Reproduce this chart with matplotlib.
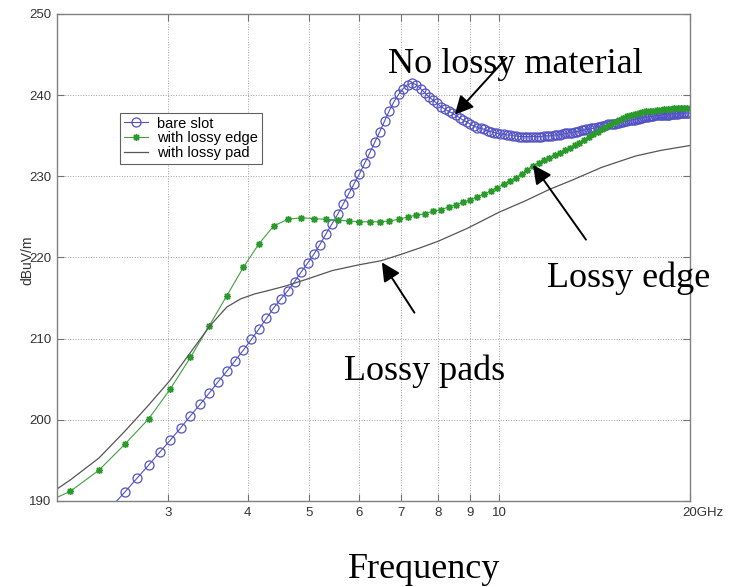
import numpy as np
import matplotlib
matplotlib.use("Agg")
from matplotlib import pyplot as plt
from matplotlib.ticker import NullLocator

# frequency sweep (GHz): blue sampled every 0.115 GHz, green every 0.23 GHz
blue_f0, blue_step = 2.445, 0.115
green_f0, green_step = 1.87, 0.23

# bare slot (dBuV/m)
bare_slot = [
    189.4, 191.1, 192.8, 194.4, 196.0, 197.5, 199.0, 200.5, 201.9, 203.3,
    204.7, 206.0, 207.3, 208.6, 209.9, 211.2, 212.5, 213.8, 214.9, 215.9,
    217.0, 218.2, 219.3, 220.4, 221.6, 222.9, 224.1, 225.3, 226.6, 227.9,
    229.1, 230.3, 231.6, 232.9, 234.2, 235.5, 236.8, 238.1, 239.2, 240.1,
    240.8, 241.3, 241.5, 241.3, 240.8, 240.3, 239.8, 239.4, 239.0, 238.6,
    238.3, 238.0, 237.8, 237.5, 237.2, 236.9, 236.7, 236.4, 236.2, 236.0,
    235.9, 235.8, 235.6, 235.5, 235.4, 235.3, 235.2, 235.2, 235.1, 235.1,
    235.0, 235.0, 234.9, 234.9, 234.9, 234.9, 234.9, 234.9, 234.9, 234.9,
    234.9, 235.0, 235.0, 235.0, 235.0, 235.1, 235.1, 235.1, 235.2, 235.3,
    235.3, 235.4, 235.4, 235.5, 235.5, 235.6, 235.7, 235.7, 235.8, 235.8,
    235.9, 235.9, 236.0, 236.1, 236.1, 236.2, 236.2, 236.3, 236.4, 236.4,
    236.5, 236.5, 236.6, 236.6, 236.7, 236.7, 236.8, 236.8, 236.9, 236.9,
    237.0, 237.0, 237.1, 237.1, 237.2, 237.2, 237.3, 237.3, 237.3, 237.4,
    237.4, 237.4, 237.5, 237.5, 237.5, 237.5, 237.6, 237.6, 237.6, 237.6,
    237.6, 237.7, 237.7, 237.7, 237.7, 237.7, 237.8, 237.8, 237.8, 237.8,
    237.8, 237.8, 237.8,
]

lossy_edge = [
    189.4, 191.2, 193.8, 197.0, 200.1, 203.8, 207.7, 211.6, 215.3, 218.8,
    221.7, 223.9, 224.7, 224.9, 224.8, 224.7, 224.6, 224.5, 224.4, 224.4,
    224.4, 224.5, 224.7, 225.0, 225.2, 225.4, 225.7, 225.9, 226.2, 226.5,
    226.8, 227.1, 227.5, 227.8, 228.2, 228.6, 229.0, 229.4, 229.8, 230.3,
    230.8, 231.3, 231.7, 232.0, 232.3, 232.6, 232.9, 233.2, 233.5, 233.8,
    234.1, 234.5, 234.8, 235.2, 235.5, 235.8, 236.1, 236.4, 236.7, 237.0,
    237.2, 237.4, 237.6, 237.7, 237.8, 237.9, 238.0, 238.1, 238.1, 238.2,
    238.2, 238.3, 238.3, 238.3, 238.4, 238.4, 238.4, 238.4, 238.4,
]

pad_f = [1.95, 2.1, 2.33, 2.56, 2.79, 3.02, 3.25, 3.49, 3.71, 3.9, 4.1, 4.3,
         4.6, 4.95, 5.45, 6.0, 6.5, 7.0, 7.5, 8.0, 8.9, 10.0, 11.0, 12.0,
         13.0, 14.5, 16.4, 18.0, 20.0]
lossy_pad = [190.9, 192.6, 195.3, 198.6, 201.8, 204.9, 208.3, 211.6, 213.9,
             214.9, 215.5, 215.9, 216.5, 217.3, 218.4, 219.1, 219.6, 220.4,
             221.2, 222.0, 223.6, 225.6, 227.0, 228.4, 229.5, 231.1, 232.5,
             233.2, 233.8]

xticks = [3, 4, 5, 6, 7, 8, 9, 10, 20]
xticklabels = ['3', '4', '5', '6', '7', '8', '9', '10', '']
yticks = [190, 200, 210, 220, 230, 240, 250]

blue_f = blue_f0 + blue_step * np.arange(len(bare_slot))
green_f = green_f0 + green_step * np.arange(len(lossy_edge))

plt.rcParams['font.family'] = ['Liberation Sans', 'DejaVu Sans']
serif = ['Liberation Serif', 'DejaVu Serif']

fig = plt.figure(figsize=(7.39, 5.87), dpi=100)
fig.patch.set_facecolor('white')
ax = fig.add_axes([57 / 739, 1 - 501 / 587, 633 / 739, 487 / 587])

ax.plot(blue_f, bare_slot, '-o', color='#5252c4', lw=0.8, ms=6.5, mew=0.9,
        mfc='none', label='bare slot')
ax.plot(green_f, lossy_edge, '-', color='#40a040', lw=0.8, marker=(8, 2, 0),
        ms=5, mew=1.0, mec='#2a9a2a', label='with lossy edge')
ax.plot(pad_f, lossy_pad, '-', color='#555555', lw=0.9, label='with lossy pad')

ax.set_xscale('log')
ax.set_xlim(2, 20)
ax.set_ylim(190, 250)
ax.set_xticks(xticks)
ax.set_xticklabels(xticklabels)
ax.xaxis.set_minor_locator(NullLocator())
ax.set_yticks(yticks)
ax.grid(True, color='#a0a0a0', ls=':', lw=0.7)
ax.tick_params(direction='in', length=5, width=0.8, color='#707070',
               top=True, right=True, labelsize=9.5, labelcolor='#333333', pad=4)
for s in ax.spines.values():
    s.set_color('#808080')
    s.set_linewidth(1.0)

leg = ax.legend(loc='upper left', bbox_to_anchor=(0.0995, 0.797),
                fontsize=10.5, fancybox=False, framealpha=1,
                edgecolor='#606060', handlelength=1.7, borderpad=0.25,
                labelspacing=0.05, handletextpad=0.6, borderaxespad=0)
leg.get_frame().set_linewidth(0.8)

fig.text(27 / 739, 1 - 260 / 587, 'dBuV/m', rotation=90, ha='center',
         va='center', fontsize=10, color='#333333')
fig.text(682 / 739, 1 - 513 / 587, '20GHz', ha='left', va='center',
         fontsize=9.5, color='#333333')

arrow = dict(arrowstyle='-|>', color='k', lw=1.4, mutation_scale=28,
             shrinkA=0, shrinkB=0)
ax.annotate('', xy=(8.5, 237.6), xytext=(10.26, 244.6), arrowprops=arrow)
ax.annotate('', xy=(11.3, 231.4), xytext=(13.7, 222.2), arrowprops=arrow)
ax.annotate('', xy=(6.52, 219.4), xytext=(7.34, 213.2), arrowprops=arrow)

ax.text(6.66, 242.7, 'No lossy material', family=serif, fontsize=26,
        va='baseline', ha='left')
ax.text(11.9, 216.4, 'Lossy edge', family=serif, fontsize=26,
        va='baseline', ha='left', clip_on=False)
ax.text(5.69, 204.9, 'Lossy pads', family=serif, fontsize=26,
        va='baseline', ha='left')
fig.text(348 / 739, 1 - 578 / 587, 'Frequency', family=serif, fontsize=26,
         va='baseline', ha='left')

fig.savefig('out.png', dpi=100)
